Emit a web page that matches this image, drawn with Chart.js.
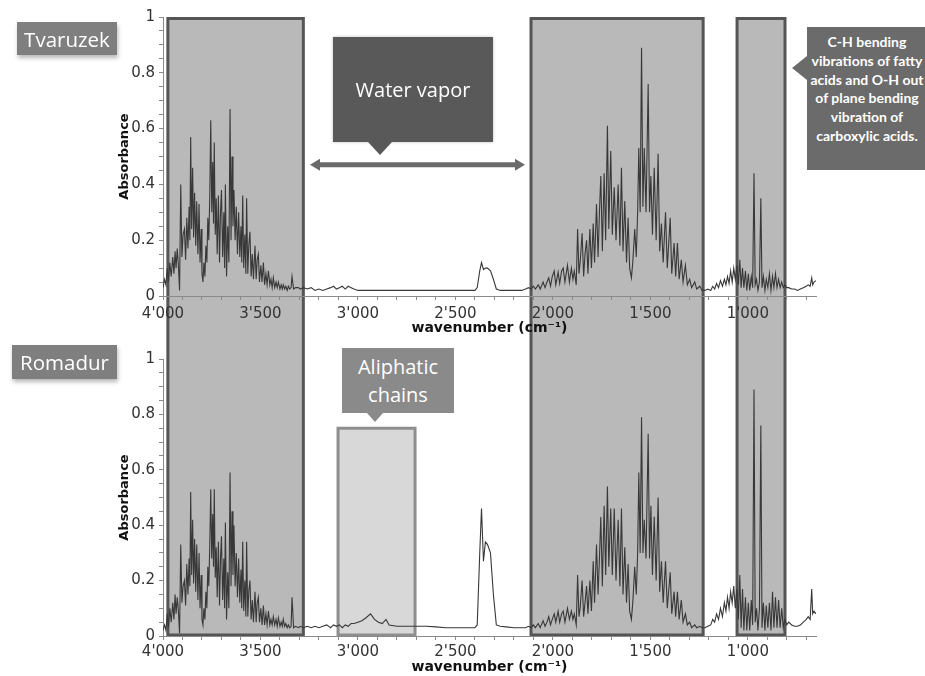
<!DOCTYPE html>
<html><head><meta charset="utf-8">
<script src="https://cdn.jsdelivr.net/npm/chart.js@4.4.0/dist/chart.umd.min.js"></script>
<style>
html,body{margin:0;padding:0;background:#fff;}
body{width:925px;height:676px;position:relative;overflow:hidden;font-family:"Open Sans",sans-serif;}
canvas{position:absolute;left:0;}
#c1{top:0;}
#c2{top:340px;}
.tag{position:absolute;z-index:3;background:#7f7f7f;color:#fff;font-size:20.5px;display:flex;align-items:center;justify-content:center;box-shadow:1px 3px 4px rgba(0,0,0,0.28);}
.callout{position:absolute;z-index:3;color:#fff;display:flex;flex-direction:column;align-items:center;justify-content:center;}
.tri{position:absolute;z-index:3;width:0;height:0;}
</style>
</head><body>
<canvas id="c1" width="925" height="340"></canvas>
<canvas id="c2" width="925" height="336"></canvas>

<div class="tag" style="left:17px;top:22px;width:100px;height:33px;">Tvaruzek</div>
<div class="tag" style="left:12px;top:345px;width:105px;height:34px;">Romadur</div>

<div class="callout" style="left:333px;top:37px;width:160px;height:105px;background:#595959;font-size:20px;box-shadow:0 0 3px rgba(0,0,0,0.25);">Water vapor</div>
<div class="tri" style="left:368px;top:142px;border-left:12.5px solid transparent;border-right:12.5px solid transparent;border-top:13px solid #595959;"></div>

<div class="callout" style="left:342px;top:348px;width:112px;height:65px;background:#8a8a8a;font-size:20px;line-height:28px;"><div>Aliphatic</div><div>chains</div></div>
<div class="tri" style="left:367px;top:413px;border-left:8px solid transparent;border-right:8px solid transparent;border-top:9px solid #8a8a8a;"></div>

<div class="callout" style="left:807px;top:27px;width:120px;height:143px;background:#6b6b6b;font-family:Lato,sans-serif;font-weight:bold;font-size:14px;line-height:18.8px;justify-content:flex-start;padding-top:6px;box-sizing:border-box;white-space:nowrap;">
<div>C-H bending</div><div>vibrations of fatty</div><div>acids and O-H out</div><div>of plane bending</div><div>vibration of</div><div>carboxylic acids.</div></div>
<div class="tri" style="left:792px;top:56px;border-top:12px solid transparent;border-bottom:12px solid transparent;border-right:15px solid #6b6b6b;"></div>

<script>
const wavenumbers = [
4000,3992,3985,3978,3972,3965,3958,3950,3944,3938,
3933,3927,3921,3915,3909,3903,3897,3890,3884,3878,
3872,3866,3862,3858,3853,3848,3843,3838,3832,3827,
3821,3815,3810,3804,3800,3795,3790,3785,3780,3775,
3770,3765,3760,3755,3750,3745,3741,3737,3732,3727,
3722,3716,3710,3705,3700,3694,3688,3684,3680,3674,
3668,3662,3656,3651,3646,3641,3636,3630,3624,3618,
3612,3606,3600,3596,3591,3586,3580,3575,3571,3565,
3560,3554,3548,3542,3536,3528,3522,3517,3511,3505,
3498,3492,3485,3479,3472,3466,3459,3452,3446,3440,
3434,3427,3420,3414,3408,3400,3394,3388,3383,3376,
3370,3363,3357,3350,3343,3338,3330,3320,3306,3295,
3280,
3260,3240,3220,3200,3180,3160,3140,3125,3110,3095,
3080,3065,3050,3035,3020,3000,2980,2960,2935,2915,
2895,2875,2856,2840,2800,2750,2700,2650,2600,2550,
2500,2450,2400,2388,2375,2366,2356,2346,2335,2320,
2305,2290,2270,2240,2200,2160,
2140,2125,2112,2100,2090,2075,2065,2050,2040,2030,
2021,2012,2003,1993,1985,1973,1965,1955,1947,1938,
1925,1915,1905,1897,1890,1880,1873,1866,1860,1850,
1842,1835,1827,1820,1810,1802,1793,1786,1776,1768,
1761,1754,1746,1737,1729,1720,1713,1703,1695,1685,
1676,1665,1656,1648,1640,1631,1622,1614,1606,1597,
1590,1580,1572,1565,1559,1552,1545,1538,1531,1522,
1511,1504,1497,1489,1480,1470,1460,1452,1443,1434,
1422,1413,1398,1390,1378,1370,1361,1352,1341,1332,
1320,1310,1298,1288,1272,1262,1246,1235,
1220,1205,1190,1180,1170,1160,1150,1140,1130,1120,
1112,1104,1096,1088,1080,1072,1064,1056,1048,1041,
1034,1027,1020,1012,1005,997,990,982,975,968,
962,955,948,940,933,927,920,912,905,897,
889,881,873,866,858,850,842,834,826,818,
810,800,790,775,760,745,730,715,700,690,
680,672,667,660,650
];
const tvaruzek = [
0.03,0.06,0.04,0.10,0.05,0.12,0.07,0.14,0.08,0.16,
0.10,0.17,0.11,0.02,0.40,0.14,0.22,0.24,0.13,0.28,
0.17,0.32,0.20,0.57,0.24,0.46,0.21,0.37,0.18,0.34,
0.15,0.33,0.12,0.24,0.08,0.05,0.12,0.07,0.18,0.12,
0.28,0.20,0.36,0.63,0.30,0.48,0.26,0.55,0.22,0.35,
0.15,0.36,0.12,0.30,0.38,0.14,0.30,0.10,0.40,0.07,
0.25,0.12,0.67,0.20,0.50,0.25,0.38,0.20,0.32,0.15,
0.30,0.14,0.25,0.12,0.36,0.10,0.22,0.08,0.35,0.08,
0.18,0.23,0.07,0.15,0.06,0.18,0.06,0.13,0.15,0.05,
0.11,0.05,0.12,0.04,0.08,0.04,0.09,0.04,0.06,0.03,
0.065,0.03,0.05,0.03,0.05,0.025,0.04,0.025,0.04,0.025,
0.035,0.02,0.035,0.025,0.03,0.07,0.025,0.03,0.03,0.025,
0.03,
0.025,0.03,0.02,0.025,0.02,0.025,0.03,0.035,0.025,0.03,
0.035,0.025,0.035,0.03,0.025,0.02,0.02,0.02,0.02,0.02,
0.02,0.02,0.02,0.02,0.02,0.02,0.02,0.02,0.02,0.02,
0.02,0.02,0.02,0.03,0.09,0.12,0.095,0.10,0.10,0.09,
0.06,0.025,0.02,0.02,0.02,0.02,
0.025,0.03,0.025,0.035,0.025,0.04,0.025,0.05,0.03,0.05,
0.065,0.035,0.07,0.09,0.04,0.085,0.045,0.09,0.10,0.05,
0.11,0.05,0.10,0.06,0.09,0.04,0.24,0.08,0.12,0.225,
0.07,0.15,0.20,0.08,0.24,0.10,0.26,0.12,0.33,0.14,
0.30,0.43,0.16,0.44,0.20,0.61,0.24,0.52,0.22,0.39,
0.20,0.40,0.18,0.46,0.16,0.34,0.12,0.28,0.10,0.065,
0.12,0.24,0.14,0.30,0.53,0.30,0.89,0.32,0.53,0.30,
0.76,0.30,0.43,0.22,0.46,0.20,0.51,0.16,0.26,0.12,
0.30,0.10,0.28,0.08,0.19,0.07,0.19,0.06,0.13,0.05,
0.11,0.04,0.06,0.03,0.05,0.025,0.035,0.02,
0.02,0.025,0.02,0.035,0.025,0.045,0.03,0.055,0.035,0.06,
0.04,0.07,0.045,0.09,0.05,0.10,0.06,0.11,0.04,0.13,
0.03,0.10,0.03,0.09,0.02,0.08,0.02,0.07,0.03,0.44,
0.04,0.06,0.02,0.05,0.35,0.03,0.07,0.02,0.06,0.03,
0.08,0.02,0.07,0.03,0.08,0.03,0.06,0.03,0.05,0.03,
0.04,0.03,0.03,0.025,0.025,0.02,0.025,0.03,0.035,0.04,
0.035,0.065,0.04,0.05,0.055
];
const romadur = [
0.02,0.04,0.02,0.08,0.03,0.10,0.05,0.12,0.06,0.15,
0.08,0.14,0.09,0.01,0.33,0.12,0.18,0.20,0.11,0.26,
0.15,0.28,0.18,0.52,0.22,0.42,0.19,0.35,0.16,0.33,
0.13,0.30,0.10,0.22,0.06,0.04,0.10,0.06,0.16,0.10,
0.25,0.18,0.33,0.53,0.28,0.44,0.25,0.53,0.21,0.32,
0.14,0.34,0.11,0.28,0.36,0.13,0.28,0.10,0.41,0.06,
0.23,0.10,0.59,0.18,0.45,0.22,0.40,0.18,0.30,0.14,
0.28,0.12,0.24,0.10,0.34,0.09,0.20,0.07,0.34,0.07,
0.16,0.20,0.06,0.13,0.05,0.16,0.05,0.12,0.14,0.05,
0.10,0.04,0.11,0.04,0.08,0.04,0.09,0.04,0.06,0.04,
0.07,0.04,0.06,0.035,0.065,0.035,0.05,0.035,0.06,0.035,
0.045,0.03,0.04,0.03,0.035,0.14,0.03,0.035,0.03,0.035,
0.03,
0.035,0.03,0.035,0.03,0.035,0.04,0.03,0.04,0.035,0.04,
0.03,0.04,0.035,0.045,0.045,0.05,0.055,0.065,0.08,0.06,
0.05,0.045,0.06,0.04,0.035,0.035,0.035,0.035,0.033,0.03,
0.03,0.03,0.03,0.04,0.30,0.46,0.27,0.34,0.33,0.30,
0.15,0.04,0.035,0.033,0.03,0.03,
0.03,0.035,0.03,0.04,0.03,0.045,0.03,0.055,0.035,0.05,
0.07,0.04,0.06,0.08,0.05,0.09,0.05,0.08,0.09,0.05,
0.10,0.06,0.09,0.06,0.08,0.04,0.22,0.07,0.10,0.20,
0.07,0.12,0.18,0.08,0.20,0.09,0.27,0.12,0.33,0.15,
0.28,0.43,0.18,0.47,0.22,0.54,0.25,0.46,0.22,0.46,
0.20,0.42,0.18,0.46,0.15,0.32,0.12,0.26,0.09,0.06,
0.12,0.25,0.15,0.30,0.59,0.30,0.79,0.30,0.42,0.28,
0.73,0.28,0.47,0.22,0.43,0.20,0.50,0.16,0.27,0.12,
0.27,0.10,0.23,0.08,0.16,0.07,0.16,0.06,0.13,0.05,
0.08,0.04,0.05,0.03,0.04,0.03,0.035,0.03,
0.03,0.035,0.04,0.06,0.05,0.08,0.06,0.10,0.07,0.12,
0.09,0.14,0.10,0.16,0.12,0.18,0.10,0.17,0.06,0.22,
0.03,0.17,0.02,0.14,0.02,0.12,0.02,0.13,0.04,0.89,
0.05,0.10,0.02,0.10,0.76,0.03,0.12,0.02,0.11,0.03,
0.12,0.02,0.16,0.03,0.14,0.03,0.13,0.03,0.10,0.03,
0.06,0.04,0.05,0.04,0.035,0.035,0.04,0.05,0.06,0.07,
0.06,0.17,0.08,0.09,0.08
];
const xTickValues = [4000,3500,3000,2500,2000,1500,1000];
const xTickLabels = ["4'000","3'500","3'000","2'500","2'000","1'500","1'000"];
const yTickValues = [0,0.2,0.4,0.6,0.8,1];
const yTickLabels = ["0","0.2","0.4","0.6","0.8","1"];
const waterBands = [[3975,3280],[2112,1229],[1055,809]];
const aliphaticBand = [3102,2707,0.75];
const vaporArrow = [3246,2143,0.47];

function bandsPlugin(panel){
  return {
    id:'bands_'+panel,
    beforeDraw(chart){
      const ctx=chart.ctx, xs=chart.scales.x, ys=chart.scales.y;
      ctx.save();
      waterBands.forEach(b=>{
        const x1=xs.getPixelForValue(b[0]), x2=xs.getPixelForValue(b[1]);
        let yT,yB;
        if(panel==='top'){ yT=ys.getPixelForValue(1)+1.5; yB=chart.height+3; }
        else { yT=-3; yB=ys.getPixelForValue(0)-1; }
        ctx.fillStyle='#b9b9b9';
        ctx.fillRect(x1,yT,x2-x1,yB-yT);
        ctx.strokeStyle='#555';
        ctx.lineWidth=3;
        ctx.beginPath();
        if(panel==='top'){ctx.moveTo(x1,yB);ctx.lineTo(x1,yT);ctx.lineTo(x2,yT);ctx.lineTo(x2,yB);}
        else {ctx.moveTo(x1,yT);ctx.lineTo(x1,yB);ctx.lineTo(x2,yB);ctx.lineTo(x2,yT);}
        ctx.stroke();
      });
      if(panel==='bottom'){
        const x1=xs.getPixelForValue(aliphaticBand[0]), x2=xs.getPixelForValue(aliphaticBand[1]);
        const yT=ys.getPixelForValue(aliphaticBand[2]), yB=ys.getPixelForValue(0)-1;
        ctx.fillStyle='#d8d8d8';
        ctx.fillRect(x1,yT,x2-x1,yB-yT);
        ctx.strokeStyle='#8e8e8e';
        ctx.lineWidth=3;
        ctx.strokeRect(x1,yT,x2-x1,yB-yT);
      }
      ctx.restore();
    },
    afterDraw(chart){
      if(panel!=='top') return;
      const ctx=chart.ctx, xs=chart.scales.x, ys=chart.scales.y;
      const xa=xs.getPixelForValue(vaporArrow[0]), xb=xs.getPixelForValue(vaporArrow[1]), y=ys.getPixelForValue(vaporArrow[2]);
      ctx.save();
      ctx.strokeStyle='#6a6a6a'; ctx.fillStyle='#6a6a6a'; ctx.lineWidth=5;
      ctx.beginPath(); ctx.moveTo(xa+6,y); ctx.lineTo(xb-6,y); ctx.stroke();
      ctx.beginPath(); ctx.moveTo(xa,y); ctx.lineTo(xa+10,y-6); ctx.lineTo(xa+10,y+6); ctx.closePath(); ctx.fill();
      ctx.beginPath(); ctx.moveTo(xb,y); ctx.lineTo(xb-10,y-6); ctx.lineTo(xb-10,y+6); ctx.closePath(); ctx.fill();
      ctx.restore();
    }
  };
}

function makeChart(id, values, panel){
  const isTop = panel==='top';
  const pts = wavenumbers.map((w,i)=>({x:w,y:values[i]}));
  return new Chart(document.getElementById(id),{
    type:'line',
    data:{datasets:[{data:pts,borderColor:'#383838',borderWidth:1.1,pointRadius:0,fill:false,tension:0}]},
    options:{
      responsive:false, animation:false, events:[],
      layout:{padding:{left:110,right:109,top:isTop?17:19,bottom:0}},
      plugins:{legend:{display:false},tooltip:{enabled:false}},
      scales:{
        x:{type:'linear',reverse:true,min:650,max:4000,
          afterBuildTicks(s){const t=[];for(let v=4000;v>=700;v-=100)t.push({value:v});s.ticks=t;},
          afterFit(s){s.height=isTop?44:40;},
          ticks:{autoSkip:false,maxRotation:0,minRotation:0,padding:isTop?5:3,color:'#333',font:{family:'DejaVu Sans',size:15},
            callback(v){const i=xTickValues.indexOf(v);return i>=0?xTickLabels[i]:'';}},
          grid:{drawOnChartArea:false,tickLength:4,color:'#8a8a8a'},
          border:{color:'#8a8a8a'},
          title:{display:true,text:'wavenumber (cm⁻¹)',color:'#111',font:{family:'DejaVu Sans',size:14,weight:'bold'},padding:{top:0,bottom:isTop?3:0}}
        },
        y:{type:'linear',min:0,max:1,
          afterBuildTicks(s){const t=[];for(let i=0;i<=20;i++)t.push({value:i/20});s.ticks=t;},
          afterFit(s){s.width=53;},
          ticks:{autoSkip:false,padding:4,color:'#333',font:{family:'DejaVu Sans',size:15},
            callback(v){for(let i=0;i<yTickValues.length;i++){if(Math.abs(v-yTickValues[i])<1e-6)return yTickLabels[i];}return '';}},
          grid:{drawOnChartArea:false,tickLength:4,color:'#8a8a8a'},
          border:{color:'#8a8a8a'},
          title:{display:true,text:'Absorbance',color:'#111',font:{family:'DejaVu Sans',size:13,weight:'bold'},padding:{top:7,bottom:0}}
        }
      }
    },
    plugins:[bandsPlugin(panel)]
  });
}
makeChart('c1', tvaruzek, 'top');
makeChart('c2', romadur, 'bottom');
</script>
</body></html>
